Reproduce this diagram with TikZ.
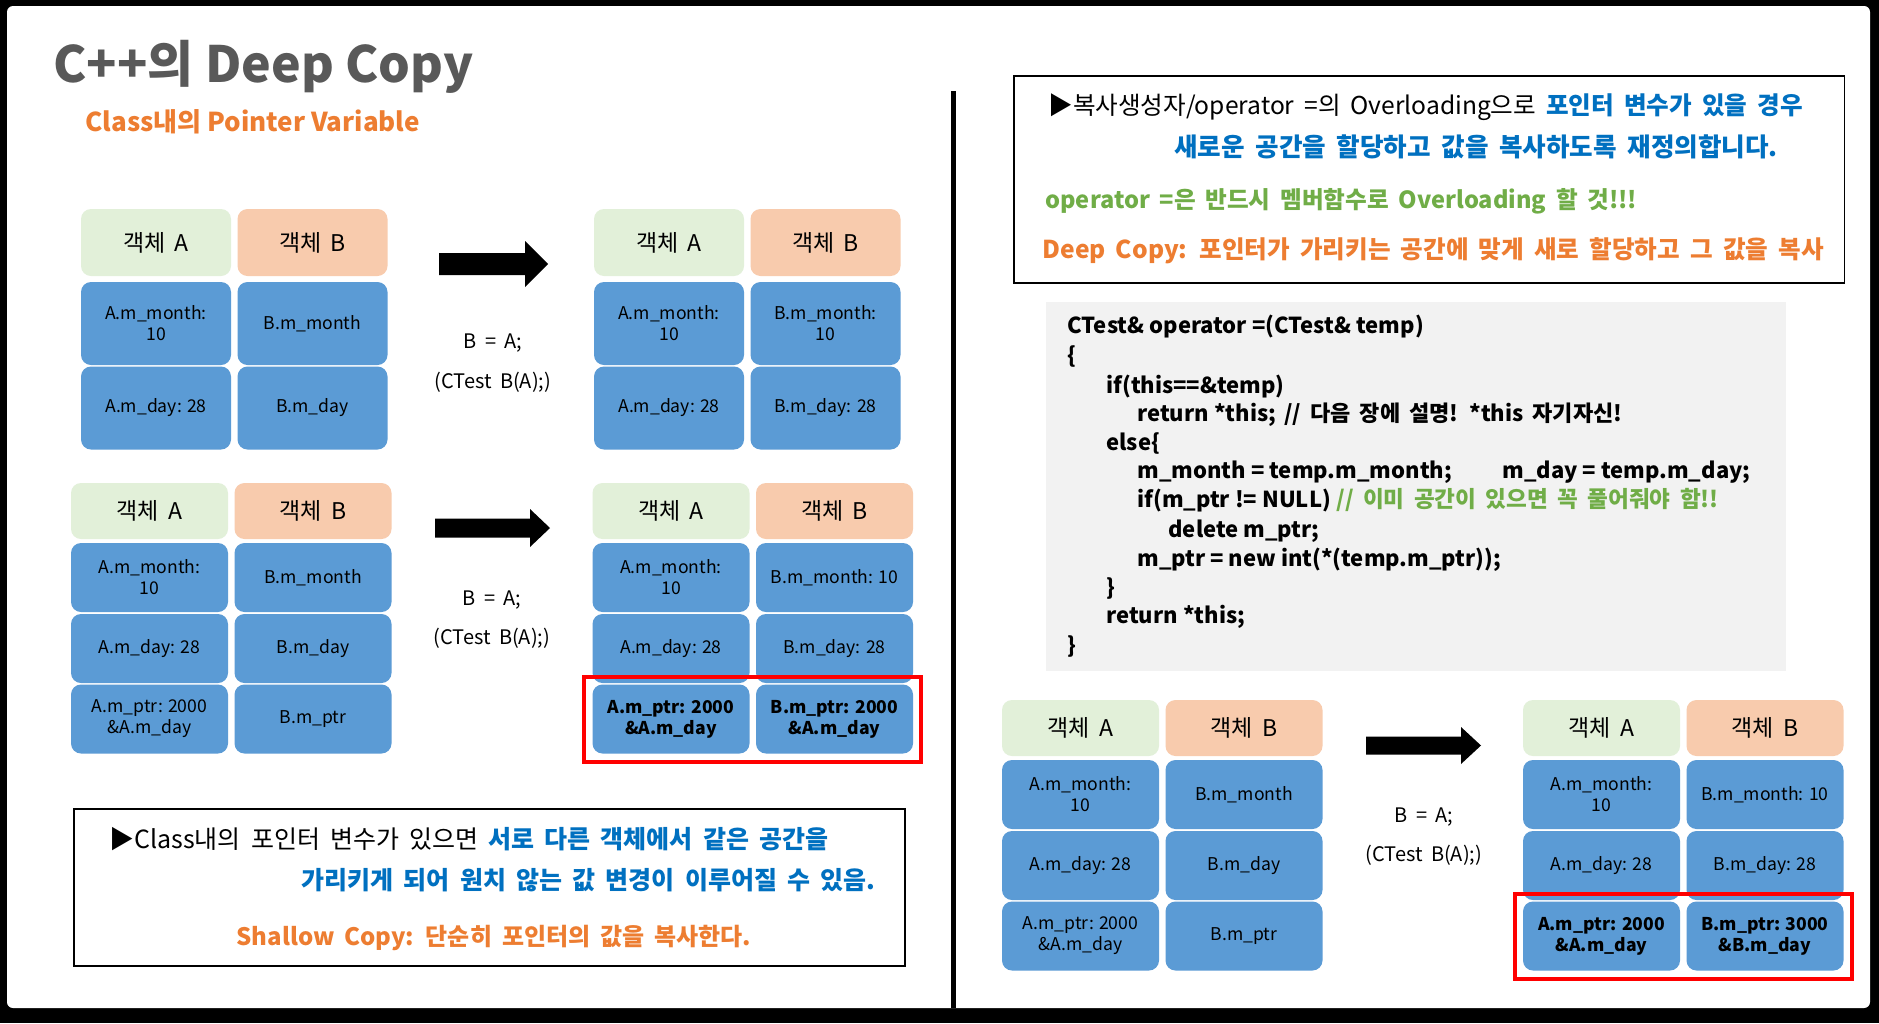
\documentclass[tikz,border=0pt]{standalone}
\usepackage{fontspec}
\setmainfont{Noto Sans CJK KR}
\newfontfamily\msgfont{Noto Sans CJK KR}[WordSpace=1.8]
\usepackage{xcolor}
\usepackage{tikz}
\usetikzlibrary{positioning,fit}

\definecolor{hdrgreen}{HTML}{E2F0D9}
\definecolor{hdrpeach}{HTML}{F8CBAD}
\definecolor{cellblue}{HTML}{5B9BD5}
\definecolor{txtblue}{HTML}{0070C0}
\definecolor{txtgreen}{HTML}{70AD47}
\definecolor{txtorange}{HTML}{ED7D31}
\definecolor{titlegray}{HTML}{595959}
\definecolor{codebg}{HTML}{F2F2F2}

\begin{document}
\begin{tikzpicture}[x=0.5pt,y=-0.5pt,
  objA/.style={fill=hdrgreen,rounded corners=5pt,inner sep=0pt,
    minimum width=78.5pt,minimum height=28pt,font=\msgfont\fontsize{11.5}{13}\selectfont},
  objB/.style={objA,fill=hdrpeach},
  field/.style={fill=cellblue,rounded corners=5pt,inner sep=0pt,align=center,
    minimum width=78.5pt,minimum height=34.5pt,font=\fontsize{8.8}{10.5}\selectfont},
  hot/.style={field,font=\bfseries\fontsize{8.8}{10.5}\selectfont},
  redbox/.style={draw=red,line width=2pt,inner xsep=4pt,inner ysep=3.8pt},
  assign/.style={inner sep=0pt,font=\msgfont\fontsize{10}{12}\selectfont},
  blockarrow/.style={fill=black},
  msg/.style={anchor=west,inner sep=0pt,text height=9pt,text depth=2.5pt,
    font=\msgfont\fontsize{12.5}{14}\selectfont},
  code/.style={anchor=west,inner sep=0pt,text height=8pt,text depth=2.5pt,
    font=\bfseries\fontsize{11}{13}\selectfont}
]
\useasboundingbox (0,0) rectangle (1879,1023);
%--- slide frame ---
\fill[black] (0,0) rectangle (1879,1023);
\fill[white,rounded corners=3pt] (7,6) rectangle (1870,1008);

%--- title ---
\node[anchor=base west,inner sep=0pt,text=titlegray,font=\bfseries\fontsize{25}{30}\selectfont]
  (title) at (53,82) {C++의 Deep Copy};
\node[anchor=base west,inner sep=0pt,text=txtorange,font=\bfseries\fontsize{13}{15}\selectfont]
  (subtitle) at (85,131) {Class내의 Pointer Variable};

%--- copy without pointer: before ---
\begin{scope}[shift={(156,242.5)},
  objA/.append style={minimum width=75pt,minimum height=33.5pt},
  field/.append style={minimum width=75pt,minimum height=41.5pt}]
  \node[objA] (ta) at (0,0) {객체 A};
  \node[objB] (tb) at (156.5,0) {객체 B};
  \node[field] (ta1) at (0,81) {A.m\_month:\\10};
  \node[field] (tb1) at (156.5,81) {B.m\_month};
  \node[field] (ta2) at (0,165.5) {A.m\_day: 28};
  \node[field] (tb2) at (156.5,165.5) {B.m\_day};
\end{scope}
\coordinate (arr1) at (439,264);
\fill[blockarrow] (arr1) ++(0,-11) -- ++(86,0) -- ++(0,-12) -- ++(23,23)
  -- ++(-23,23) -- ++(0,-12) -- ++(-86,0) -- cycle;
\node[assign] (as1) at (493,343) {B = A;};
\node[assign] (as1b) at (493,382) {(CTest B(A);)};
%--- copy without pointer: after ---
\begin{scope}[shift={(669,242.5)},
  objA/.append style={minimum width=75pt,minimum height=33.5pt},
  field/.append style={minimum width=75pt,minimum height=41.5pt}]
  \node[objA] (ua) at (0,0) {객체 A};
  \node[objB] (ub) at (156.5,0) {객체 B};
  \node[field] (ua1) at (0,81) {A.m\_month:\\10};
  \node[field] (ub1) at (156.5,81) {B.m\_month:\\10};
  \node[field] (ua2) at (0,165.5) {A.m\_day: 28};
  \node[field] (ub2) at (156.5,165.5) {B.m\_day: 28};
\end{scope}

%--- shallow copy: before ---
\begin{scope}[shift={(149.5,511)}]
  \node[objA] (ma) at (0,0) {객체 A};
  \node[objB] (mb) at (163.5,0) {객체 B};
  \node[field] (ma1) at (0,66.5) {A.m\_month:\\10};
  \node[field] (mb1) at (163.5,66.5) {B.m\_month};
  \node[field] (ma2) at (0,137.5) {A.m\_day: 28};
  \node[field] (mb2) at (163.5,137.5) {B.m\_day};
  \node[field] (ma3) at (0,208) {A.m\_ptr: 2000\\\&A.m\_day};
  \node[field] (mb3) at (163.5,208) {B.m\_ptr};
\end{scope}
\coordinate (arr2) at (435,528);
\fill[blockarrow] (arr2) ++(0,-9.5) -- ++(95,0) -- ++(0,-9.5) -- ++(20,19)
  -- ++(-20,19) -- ++(0,-9.5) -- ++(-95,0) -- cycle;
\node[assign] (as2) at (492,600) {B = A;};
\node[assign] (as2b) at (492,638) {(CTest B(A);)};
%--- shallow copy: after ---
\begin{scope}[shift={(671,511)}]
  \node[objA] (na) at (0,0) {객체 A};
  \node[objB] (nb) at (163.5,0) {객체 B};
  \node[field] (na1) at (0,66.5) {A.m\_month:\\10};
  \node[field] (nb1) at (163.5,66.5) {B.m\_month: 10};
  \node[field] (na2) at (0,137.5) {A.m\_day: 28};
  \node[field] (nb2) at (163.5,137.5) {B.m\_day: 28};
  \node[hot] (na3) at (0,208) {A.m\_ptr: 2000\\\&A.m\_day};
  \node[hot] (nb3) at (163.5,208) {B.m\_ptr: 2000\\\&A.m\_day};
\end{scope}
\node[redbox,fit=(na3)(nb3)] (nred) {};

% shallow copy note
\draw[line width=0.8pt] (74,809) rectangle (905,966);
\node[msg] (s1) at (109,842) {▶Class내의 포인터 변수가 있으면 \textcolor{txtblue}{\bfseries 서로 다른 객체에서 같은 공간을}};
\node[msg,text=txtblue,font=\msgfont\bfseries\fontsize{12.5}{14}\selectfont] (s2) at (301,883)
  {가리키게 되어 원치 않는 값 변경이 이루어질 수 있음.};
\node[msg,text=txtorange,font=\msgfont\bfseries\fontsize{12}{14}\selectfont] (s3) at (236,939)
  {Shallow Copy: 단순히 포인터의 값을 복사한다.};

% divider
\draw[line width=2.5pt] (953,91) -- (953,1008);

%--- deep copy note ---
\draw[line width=0.8pt] (1014,76) rectangle (1844.5,283);
\node[msg,font=\msgfont\fontsize{12.3}{14}\selectfont] (d1) at (1048,108) {▶복사생성자/operator =의 Overloading으로 \textcolor{txtblue}{\bfseries 포인터 변수가 있을 경우}};
\node[msg,text=txtblue,font=\msgfont\bfseries\fontsize{12.8}{14}\selectfont] (d2) at (1174,150)
  {새로운 공간을 할당하고 값을 복사하도록 재정의합니다.};
\node[msg,text=txtgreen,font=\msgfont\bfseries\fontsize{11.8}{14}\selectfont] (d3) at (1045,202)
  {operator =은 반드시 멤버함수로 Overloading 할 것!!!};
\node[msg,text=txtorange,font=\msgfont\bfseries\fontsize{12.3}{14}\selectfont] (d4) at (1042,252)
  {Deep Copy: 포인터가 가리키는 공간에 맞게 새로 할당하고 그 값을 복사};

%--- operator= code ---
\fill[codebg] (1046,302) rectangle (1786,671);
\node[code] (c1) at (1067,328) {CTest\& operator =(CTest\& temp)};
\node[code] (c2) at (1067,358) {\{};
\node[code] (c3) at (1106,388) {if(this==\&temp)};
\node[code] (c4) at (1137,416) {return *this;};
\node[code,font=\msgfont\bfseries\fontsize{11}{13}\selectfont] (c4n) at (1284,416)
  {// 다음 장에 설명! *this 자기자신!};
\node[code] (c5) at (1106,445) {else\{};
\node[code] (c6) at (1137,473) {m\_month = temp.m\_month;};
\node[code] (c6b) at (1502,473) {m\_day = temp.m\_day;};
\node[code] (c7) at (1137,502) {if(m\_ptr != NULL)};
\node[code,text=txtgreen,font=\msgfont\bfseries\fontsize{11.3}{13}\selectfont] (c7n) at (1336,502)
  {// 이미 공간이 있으면 꼭 풀어줘야 함!!};
\node[code] (c8) at (1168,532) {delete m\_ptr;};
\node[code] (c9) at (1137,561) {m\_ptr = new int(*(temp.m\_ptr));};
\node[code] (c10) at (1106,590) {\}};
\node[code] (c11) at (1106,618) {return *this;};
\node[code] (c12) at (1067,648) {\}};

%--- deep copy: before ---
\begin{scope}[shift={(1080.5,728)}]
  \node[objA] (pa) at (0,0) {객체 A};
  \node[objB] (pb) at (163.5,0) {객체 B};
  \node[field] (pa1) at (0,66.5) {A.m\_month:\\10};
  \node[field] (pb1) at (163.5,66.5) {B.m\_month};
  \node[field] (pa2) at (0,137.5) {A.m\_day: 28};
  \node[field] (pb2) at (163.5,137.5) {B.m\_day};
  \node[field] (pa3) at (0,208) {A.m\_ptr: 2000\\\&A.m\_day};
  \node[field] (pb3) at (163.5,208) {B.m\_ptr};
\end{scope}
\coordinate (arr3) at (1366,745.5);
\fill[blockarrow] (arr3) ++(0,-9) -- ++(95,0) -- ++(0,-9.5) -- ++(20,18.5)
  -- ++(-20,18.5) -- ++(0,-9.5) -- ++(-95,0) -- cycle;
\node[assign] (as3) at (1424,817) {B = A;};
\node[assign] (as3b) at (1424,855) {(CTest B(A);)};
%--- deep copy: after ---
\begin{scope}[shift={(1601.5,728)}]
  \node[objA] (qa) at (0,0) {객체 A};
  \node[objB] (qb) at (163.5,0) {객체 B};
  \node[field] (qa1) at (0,66.5) {A.m\_month:\\10};
  \node[field] (qb1) at (163.5,66.5) {B.m\_month: 10};
  \node[field] (qa2) at (0,137.5) {A.m\_day: 28};
  \node[field] (qb2) at (163.5,137.5) {B.m\_day: 28};
  \node[hot] (qa3) at (0,208) {A.m\_ptr: 2000\\\&A.m\_day};
  \node[hot] (qb3) at (163.5,208) {B.m\_ptr: 3000\\\&B.m\_day};
\end{scope}
\node[redbox,fit=(qa3)(qb3)] (qred) {};
\end{tikzpicture}
\end{document}
